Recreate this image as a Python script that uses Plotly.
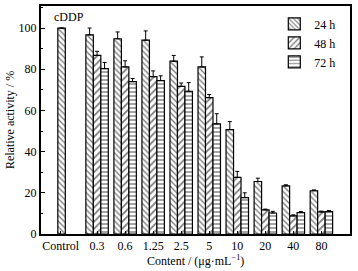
import plotly.graph_objects as go

categories = ["Control", "0.3", "0.6", "1.25", "2.5", "5", "10", "20", "40", "80"]
series_names = ["24 h", "48 h", "72 h"]
v24 = [100, 96.7, 94.8, 94.1, 83.9, 81.1, 50.7, 25.5, 23.4, 21.0]
v48 = [None, 86.7, 81.1, 76.4, 71.7, 66.2, 27.5, 11.7, 8.8, 10.7]
v72 = [None, 80.3, 74.0, 74.5, 69.3, 53.5, 17.7, 10.2, 10.4, 10.9]
e24 = [0, 3.3, 3.3, 4.5, 2.8, 4.9, 3.9, 1.6, 0.5, 0.4]
e48 = [0, 2.0, 3.0, 2.8, 1.6, 1.5, 2.9, 0.4, 0.5, 0.4]
e72 = [0, 3.0, 1.5, 2.3, 4.2, 4.9, 2.3, 0.8, 0.5, 0.5]
patterns = ["\\", "/", "-"]
tick_positions = [-0.3, 1, 2, 3, 4, 5, 6, 7, 8, 9]

FONT = "Liberation Serif"
xs = list(range(len(categories)))

fig = go.Figure()
for name, vals, errs, pat in zip(series_names, [v24, v48, v72], [e24, e48, e72], patterns):
    fig.add_trace(go.Bar(
        x=xs, y=vals, name=name,
        marker=dict(color="white", line=dict(color="black", width=1.2),
                    pattern=dict(shape=pat, fgcolor="black", bgcolor="white",
                                 size=4 if pat != "/" else 5, solidity=0.35, fillmode="overlay")),
        error_y=dict(type="data", array=errs, arrayminus=[0]*len(errs), symmetric=False,
                     color="black", thickness=1, width=2),
    ))

fig.add_annotation(x=0, y=105.5, text="cDDP", showarrow=False, xref="x", yref="y",
                   font=dict(family=FONT, size=12, color="black"), yanchor="middle")
fig.add_annotation(x=0.5, y=-0.075, xref="paper", yref="paper", showarrow=False,
                   text="Content / (μg·mL<sup>−1</sup>)", yanchor="top", xanchor="center",
                   font=dict(family=FONT, size=12, color="black"))
fig.add_annotation(x=-0.1, y=0.5, xref="paper", yref="paper", showarrow=False,
                   text="Relative activity / %", textangle=-90, xanchor="center", yanchor="middle",
                   font=dict(family=FONT, size=12, color="black"))

fig.update_layout(
    width=358, height=271,
    margin=dict(l=41, r=8, t=6, b=37, autoexpand=False),
    paper_bgcolor="white", plot_bgcolor="white",
    barmode="group", bargap=0.2, bargroupgap=0,
    font=dict(family=FONT, size=12, color="black"),
    legend=dict(x=0.755, y=0.985, xanchor="left", yanchor="top", bgcolor="rgba(0,0,0,0)",
                font=dict(family=FONT, size=12), tracegroupgap=0, itemwidth=30),
    xaxis=dict(range=[-1.0, 10.02], tickvals=tick_positions, ticktext=categories,
               showline=True, linecolor="black", linewidth=2, mirror=True, automargin=False,
               ticks="inside", ticklen=3, tickcolor="black", showgrid=False, zeroline=False,
               tickfont=dict(size=12)),
    yaxis=dict(range=[0, 110.7], tickvals=[0, 20, 40, 60, 80, 100], automargin=False,
               showline=True, linecolor="black", linewidth=2, mirror=True,
               ticks="inside", ticklen=4, tickcolor="black", showgrid=False, zeroline=False,
               minor=dict(tickvals=[10, 30, 50, 70, 90, 110], ticks="inside", ticklen=2, tickcolor="black"),
               tickfont=dict(size=12)),
)

fig.write_html("out.html", config={"displayModeBar": False},
               post_script="document.body.style.margin='0';document.body.style.overflow='hidden';")
